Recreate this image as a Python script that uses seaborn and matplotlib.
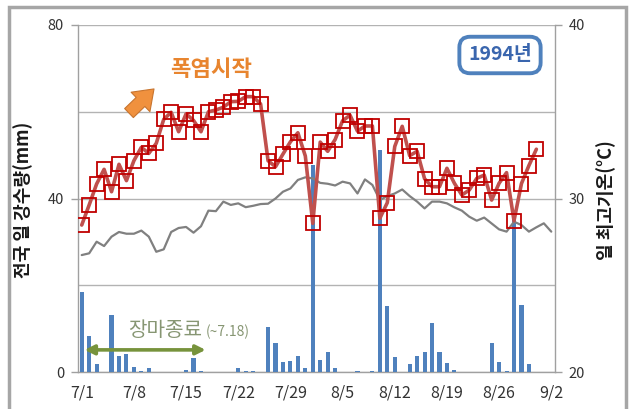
import matplotlib
matplotlib.use('Agg')
import matplotlib.pyplot as plt
from matplotlib.patches import Rectangle
import pandas as pd
import seaborn as sns

# 1994년 7/1 ~ 9/2 일별 자료
rain = [18.5, 8.2, 1.8, 0, 13.2, 3.6, 4.1, 1.1, 0.2, 0.85,
        0, 0, 0, 0, 0.4, 3.2, 0.2, 0, 0, 0,
        0, 0.85, 0.2, 0.2, 0, 10.4, 6.8, 2.2, 2.6, 3.6,
        0.85, 47.7, 2.7, 4.7, 0.85, 0, 0, 0.2, 0, 0.2,
        51.2, 15.2, 3.4, 0, 1.8, 3.6, 4.7, 11.4, 4.7, 2.0,
        0.5, 0, 0, 0, 0, 6.6, 2.2, 0.2, 36.0, 15.4,
        1.8]
tmax = [28.47, 29.63, 30.84, 31.68, 30.39, 31.97, 31.03, 32.18, 32.95, 32.6,
        33.18, 34.56, 34.97, 33.85, 34.88, 34.5, 33.85, 35.0, 35.1, 35.26,
        35.58, 35.6, 35.87, 35.87, 35.45, 32.18, 31.83, 32.56, 33.27, 33.79,
        32.45, 28.57, 33.25, 32.72, 33.4, 34.48, 34.8, 33.88, 34.18, 34.18,
        28.86, 29.76, 33.0, 34.16, 32.47, 32.72, 31.14, 30.68, 30.68, 31.74,
        30.88, 30.2, 30.49, 31.16, 31.35, 29.91, 30.88, 31.49, 28.72, 30.86,
        31.9, 32.84]
tnorm = [26.74, 26.84, 27.51, 27.26, 27.8, 28.07, 27.97, 27.97, 28.15, 27.8,
         26.93, 27.07, 28.07, 28.3, 28.36, 28.03, 28.4, 29.3, 29.27, 29.82,
         29.63, 29.72, 29.5, 29.58, 29.68, 29.7, 30.0, 30.39, 30.58, 31.07,
         31.22, 31.16, 30.9, 30.85, 30.75, 30.97, 30.87, 30.29, 31.1, 30.78,
         29.91, 30.14, 30.29, 30.52, 30.14, 29.82, 29.43, 29.82, 29.82, 29.72,
         29.49, 29.3, 28.95, 28.72, 28.9, 28.56, 28.22, 28.09, 28.66, 28.47,
         28.09, 28.34, 28.57, 28.09]
xlabels = ['7/1', '7/8', '7/15', '7/22', '7/29', '8/5', '8/12', '8/19', '8/26', '9/2']

df_rain = pd.DataFrame({'day': range(len(rain)), 'rain': rain})
df_max = pd.DataFrame({'day': range(len(tmax)), 't': tmax})
df_norm = pd.DataFrame({'day': range(len(tnorm)), 't': tnorm})

sns.set_style('white')
plt.rcParams['font.family'] = ['Noto Sans CJK KR', 'DejaVu Sans']

fig = plt.figure(figsize=(6.3, 4.09), dpi=100)
ax = fig.add_axes([78/630, 1-372/409, 477/630, 347/409])

sns.barplot(data=df_rain, x='day', y='rain', native_scale=True, width=0.55,
            color='#4F81BD', saturation=1, errorbar=None, linewidth=0,
            edgecolor='none', ax=ax, zorder=3)
ax.set_ylim(0, 80)
ax.set_xlim(-0.5, 63.5)
ax.set_yticks([0, 40, 80])
ax.set_yticks([20, 60], minor=True)
ax.grid(axis='y', which='both', color='#B3B3B3', lw=1)
ax.set_axisbelow(True)
ax.set_xticks(range(0, 64, 7))
ax.set_xticklabels(xlabels)
ax.set_xticks([k - 0.5 for k in range(0, 64, 7)], minor=True)
ax.tick_params(axis='x', which='major', length=0, pad=9, labelsize=11.5, labelcolor='#333333')
ax.tick_params(axis='x', which='minor', length=5, width=1, color='#A0A0A0', direction='out')
ax.tick_params(axis='y', which='major', length=5, width=1, color='#A0A0A0',
               direction='out', labelsize=10.5, labelcolor='#333333', pad=5)
ax.tick_params(axis='y', which='minor', length=0)
ax.set_xlabel('')
ax.set_ylabel('')
for s in ['left', 'right', 'bottom']:
    ax.spines[s].set_color('#A0A0A0')
    ax.spines[s].set_linewidth(1)
ax.spines['top'].set_visible(False)

ax2 = ax.twinx()
sns.lineplot(data=df_norm, x='day', y='t', color='#808080', lw=1.6, ax=ax2)
sns.lineplot(data=df_max, x='day', y='t', color='#C0504D', lw=2.6, marker='s',
             markersize=9.5, markerfacecolor='none', markeredgecolor='#C00000',
             markeredgewidth=1.3, ax=ax2)
ax2.set_ylim(20, 40)
ax2.set_xlim(-0.5, 63.5)
ax2.set_yticks([20, 30, 40])
ax2.tick_params(axis='y', length=5, width=1, color='#A0A0A0', direction='out',
                labelsize=10.5, labelcolor='#333333', pad=5)
ax2.set_xlabel('')
ax2.set_ylabel('')
for s in ax2.spines.values():
    s.set_visible(False)

# 축 제목
fig.text(23/630, 1-200/409, '전국 일 강수량(mm)', rotation=90, ha='center', va='center',
         fontsize=13, fontweight='bold', color='#1a1a1a')
fig.text(606/630, 1-200/409, '일 최고기온(°C)', rotation=90, ha='center', va='center',
         fontsize=13, fontweight='bold', color='#1a1a1a')

# 주석
fig.text(211/630, 1-70/409, '폭염시작', ha='center', va='center', fontsize=16,
         fontweight='bold', color='#E8852F')
ax.annotate('', xy=(156, 409-87), xytext=(127, 409-115), xycoords='figure pixels',
            textcoords='figure pixels',
            arrowprops=dict(arrowstyle='simple,head_width=1.3,head_length=0.9,tail_width=0.6',
                            fc='#F0913E', ec='#C8742E', lw=0.8, mutation_scale=15))
fig.text(500/630, 1-55/409, '1994년', ha='center', va='center', fontsize=14,
         fontweight='bold', color='#3A66AE',
         bbox=dict(boxstyle='round,pad=0.45,rounding_size=0.55', fc='white',
                   ec='#4F81BD', lw=2.8))
ax.text(6.2, 9.6, '장마종료', ha='left', va='center', fontsize=14.5, color='#879673')
ax.text(16.7, 9.2, '(~7.18)', ha='left', va='center', fontsize=10, color='#879673')
ax.annotate('', xy=(17, 5.1), xytext=(0, 5.1),
            arrowprops=dict(arrowstyle='<|-|>', color='#77933C', lw=2.6, mutation_scale=14),
            zorder=5)

# 바깥 테두리
fig.patches.append(Rectangle((9/630, -0.05), 617/630, 1.05-7/409, transform=fig.transFigure,
                             fill=False, ec='#A6A6A6', lw=2.5))

plt.savefig('out.png', dpi=100)
